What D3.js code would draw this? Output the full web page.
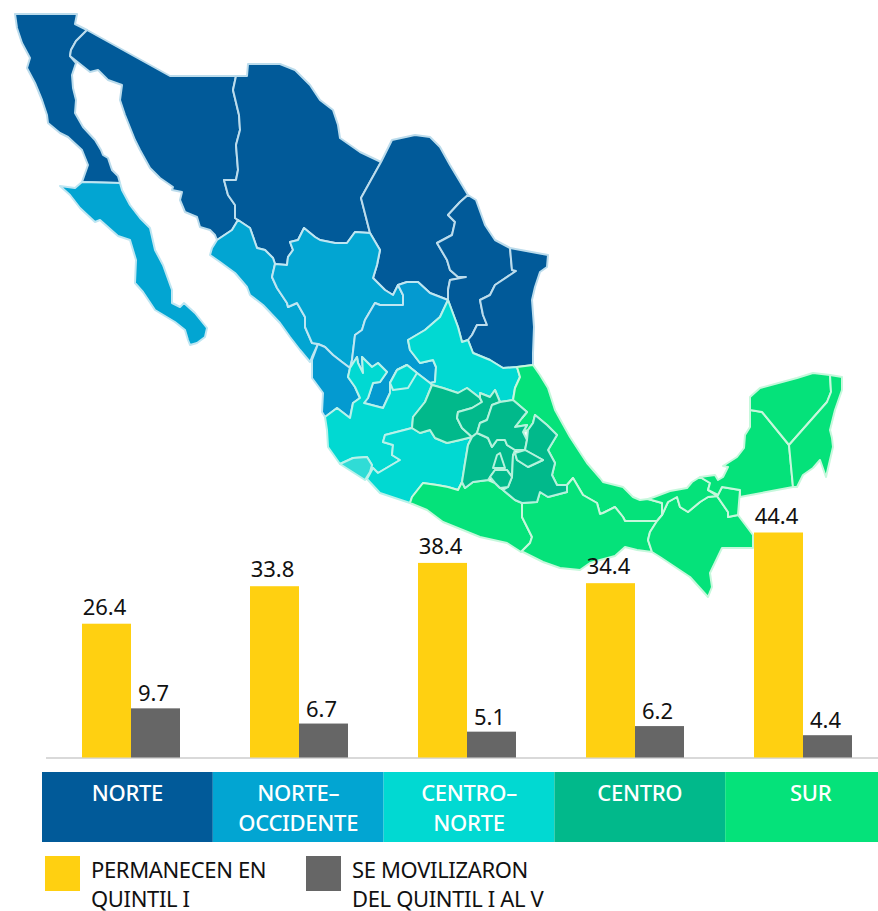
<!DOCTYPE html>
<html><head><meta charset="utf-8">
<style>html,body{margin:0;padding:0;background:#fff}svg{display:block}text{font-family:"Noto Sans",sans-serif}</style>
<script src="https://cdn.jsdelivr.net/npm/d3@7"></script></head><body>
<script>
// ---------- chart values ----------
const regionNames = ["NORTE","NORTE–OCCIDENTE","CENTRO–NORTE","CENTRO","SUR"];
const bandLines = [["NORTE"],["NORTE–","OCCIDENTE"],["CENTRO–","NORTE"],["CENTRO"],["SUR"]];
const seriesKeys = ["permanecen","movilizaron"];
const permanecen = [26.4,33.8,38.4,34.4,44.4];
const movilizaron = [9.7,6.7,5.1,6.2,4.4];
const legendLines = [["PERMANECEN EN","QUINTIL I"],["SE MOVILIZARON","DEL QUINTIL I AL V"]];
const regionColors = ["#015a99","#02a5d2","#01d9d2","#01b98b","#05e27a"];
const regionStrokes = ["#bcdcec","#bfe6f2","#b8f2ea","#b4f2dc","#c6f8dc"];
const seriesColors = ["#ffd011","#666666"];

// ---------- map outlines (map units, shared borders reused) ----------
const rev = a => a.slice().reverse();
const bcSon=[[87,30],[76,41],[71,50],[70,56]];
const sonChi=[[236,76],[233,90],[239,115],[240,130],[236,145],[238,170],[236,180],[224,180],[228,195],[235,205],[235,218],[238,220]];
const sonSin=[[238,220],[232,230],[217,240]];
const chiSin=[[238,220],[250,228],[257,248],[265,250],[273,258],[275,264]];
const chiDgo=[[275,264],[287,265],[288,257],[293,250],[290,242],[298,240],[304,228],[315,237],[320,240],[335,243],[347,243],[355,232],[370,233]];
const chiCoa=[[381,162],[361,198],[370,233]];
const coaNl=[[468,195],[460,202],[448,215],[455,222],[452,235],[437,243],[447,260],[450,270],[458,277],[466,277],[450,280],[448,290],[448,300]];
const coaZac=[[448,300],[430,293],[418,282],[407,282],[398,285]];
const coaDgo=[[398,285],[393,295],[385,290],[373,278],[377,265],[380,250],[370,233]];
const nlTam=[[510,248],[512,270],[516,271],[495,285],[490,295],[480,300],[483,315],[487,325],[477,325],[472,335],[468,340]];
const nlSlp=[[448,300],[458,327],[462,342],[468,340]];
const sinDgo=[[275,264],[272,277],[277,288],[287,303],[288,307],[297,303],[305,317],[305,327],[312,343],[318,344]];
const dgoZac=[[398,285],[403,295],[403,305],[380,305],[375,303],[365,320],[362,330],[355,335],[352,360],[350,368]];
const dgoNay=[[350,368],[342,362],[333,355],[325,347],[318,344]];
const zacSlp=[[448,300],[440,317],[425,330],[408,340],[410,350],[420,363],[433,360],[436,367],[435,382],[430,383]];
const zacJal=[[430,383],[417,373],[407,365],[397,370],[390,383],[390,393],[383,408],[364,403],[368,398],[373,383],[380,382],[387,372],[378,363],[372,367],[367,362],[362,357],[363,373],[358,363],[357,357],[350,368]];
const nayJal=[[350,368],[348,377],[355,387],[360,398],[353,403],[350,418],[337,408],[325,417]];
const slpSouth=[[513,400],[500,402],[495,390],[490,397],[480,393],[480,398],[467,388],[458,393],[443,388],[432,385],[430,383]];
const slpVer=[[517,367],[520,377],[515,388],[513,400]];
const jalMic=[[367,479],[373,468],[378,473],[400,460],[392,455],[393,445],[383,442],[385,435],[412,428]];
const jalGto=[[412,428],[413,417],[425,402],[432,385]];
const gtoMic=[[412,428],[420,433],[430,430],[435,438],[447,443],[460,440],[472,437]];
const gtoQro=[[482,402],[472,408],[458,412],[457,418],[462,428],[472,437]];
const qroHgo=[[472,437],[477,433],[480,423],[487,420],[492,405],[500,402]];
const hgoMex=[[477,433],[488,438],[492,447],[497,440],[505,440],[507,445],[515,450]];
const micMex=[[472,437],[468,445],[465,463],[462,482]];
const micGro=[[462,482],[458,490],[448,487],[437,485],[423,483],[412,497],[410,503]];
const groPue=[[503,490],[515,500],[522,503]];
const groOax=[[522,503],[522,517],[532,537],[530,543],[521,552]];
const oaxPue=[[522,503],[537,502],[540,492],[548,497],[567,492],[567,485],[573,478]];
const oaxVer=[[573,478],[583,495],[597,503],[600,514],[603,513],[615,507],[623,517],[625,521],[657,521]];
const oaxChi=[[657,521],[650,532],[648,540],[652,552]];
const verTab=[[648,499],[662,503],[662,515],[657,521]];
const chiTab=[[662,515],[668,502],[677,497],[680,507],[688,512],[700,502],[708,497],[717,496]];
const tabCam=[[700,477],[710,483],[708,490],[718,495],[722,487],[740,490],[740,497]];
const camYuc=[[750,410],[762,412],[789,445]];
const yucRoo=[[830,375],[831,392],[827,402],[789,445]];
const rooCam=[[789,445],[793,487]];

const stateOutlines = [
 {name:"Baja California",region:0,ring:[[15,14],[77,14],[75,24],...bcSon,[76,63],[72,75],[73,88],[76,100],[75,113],[83,127],[95,140],[101,150],[103,155],[108,158],[112,170],[118,176],[120,183],[82,182],[88,165],[82,150],[68,137],[60,133],[48,123],[47,115],[42,100],[35,83],[27,68],[30,58],[22,43],[17,28]]},
 {name:"Sonora",region:0,ring:[[87,30],[170,76],...sonChi,...sonSin.slice(1),[215,235],[210,230],[200,227],[197,217],[185,212],[180,200],[182,192],[172,190],[173,187],[160,178],[150,168],[140,150],[135,140],[125,115],[120,100],[122,85],[108,80],[98,70],[90,72],[75,60],...rev(bcSon)]},
 {name:"Chihuahua",region:0,ring:[[236,76],[247,76],[248,64],[280,64],[295,70],[310,85],[320,100],[333,110],[338,125],[340,138],[360,152],...chiCoa,...rev(chiDgo),...rev(chiSin),...rev(sonChi)]},
 {name:"Coahuila",region:0,ring:[[381,162],[392,140],[415,135],[430,137],[440,147],[450,165],...coaNl,...coaZac,...coaDgo,[361,198]]},
 {name:"Nuevo León",region:0,ring:[[468,195],[476,200],[485,225],[495,240],...nlTam,...rev(nlSlp),...rev(coaNl)]},
 {name:"Tamaulipas",region:0,ring:[[510,248],[537,253],[548,255],[547,267],[540,272],[535,287],[532,300],[534,327],[533,353],[533,365],[517,367],[503,368],[490,360],[473,353],...rev(nlTam)]},
 {name:"Baja California Sur",region:1,ring:[[82,182],[120,183],[122,190],[130,205],[140,218],[150,228],[155,250],[163,265],[172,290],[172,303],[180,307],[184,303],[195,313],[207,328],[205,337],[197,343],[190,345],[188,340],[185,330],[175,322],[155,310],[143,292],[135,283],[136,260],[130,240],[118,236],[100,220],[95,222],[80,208],[70,195],[60,186],[75,188]]},
 {name:"Sinaloa",region:1,ring:[[217,240],[232,230],...chiSin,...sinDgo.slice(1),[312,357],[310,362],[300,350],[290,337],[280,323],[263,305],[250,295],[247,287],[235,273],[220,262],[210,255],[212,248]]},
 {name:"Durango",region:1,ring:[...chiDgo,...rev(coaDgo).slice(1),...dgoZac,...dgoNay.slice(1),...rev(sinDgo).slice(1)]},
 {name:"Nayarit",region:1,tone:"#049ad0",ring:[...rev(dgoNay),...nayJal,[322,412],[323,393],[312,378],[312,360]]},
 {name:"Zacatecas",region:1,tone:"#049ad0",ring:[...rev(dgoZac),...rev(coaZac).slice(1),...zacSlp,...zacJal.slice(1)]},
 {name:"San Luis Potosí",region:2,ring:[...nlSlp,[473,353],[490,360],[503,368],...slpVer,...slpSouth.slice(1),...rev(zacSlp).slice(1)]},
 {name:"Jalisco",region:2,ring:[...zacJal,...nayJal.slice(1),[327,430],[328,447],[340,464],[353,458],[367,457],[372,465],[370,472],...jalMic,[413,417],[425,402],[432,385]]},
 {name:"Aguascalientes",region:2,ring:[[390,383],[397,370],[407,365],[417,373],[408,388],[393,390]]},
 {name:"Michoacán",region:2,ring:[...jalMic,...gtoMic,...micMex.slice(1),...micGro.slice(1),[380,493]]},
 {name:"Colima",region:2,tone:"#30dcd6",ring:[[340,464],[353,458],[367,457],[372,465],[370,472],[365,480]]},
 {name:"Veracruz",region:4,ring:[[517,367],[533,365],[540,375],[548,388],[555,410],[570,437],[587,463],[600,478],[603,482],[623,487],[633,497],[640,500],...verTab,...rev(oaxVer),[567,485],[557,485],[552,475],[555,463],[548,450],[557,435],[547,425],[535,415],[533,423],[528,430],[523,432],[527,425],[515,427],[522,418],[527,412],...rev(slpVer).slice(0,-1)]},
 {name:"Guerrero",region:4,ring:[[410,503],[412,497],[423,483],[437,485],[448,487],[458,490],[462,482],[465,488],[473,482],[488,480],[495,483],[500,488],...groPue,...groOax.slice(1),[507,543],[480,537],[443,522],[427,510]]},
 {name:"Oaxaca",region:4,ring:[...oaxPue,...oaxVer.slice(1),...oaxChi.slice(1),[637,550],[625,547],[615,556],[600,560],[590,563],[580,570],[560,568],[543,562],[523,552],...rev(groOax).slice(0,-1)]},
 {name:"Chiapas",region:4,ring:[[657,521],...chiTab,[728,512],[728,517],[738,515],[747,527],[753,535],[753,548],[722,548],[710,573],[712,587],[708,597],[690,577],[660,557],...rev(oaxChi).slice(0,-1)]},
 {name:"Tabasco",region:4,ring:[[648,499],[654,497],[670,491],[687,488],[692,482],[700,477],[710,483],[708,490],[717,496],[722,487],[740,490],[738,515],[728,517],[728,512],...rev(chiTab),[662,503]]},
 {name:"Campeche",region:4,ring:[[700,477],[715,475],[718,480],[723,477],[728,467],[723,466],[737,457],[744,448],[745,435],[750,427],...camYuc,...rooCam,...rev(tabCam)]},
 {name:"Yucatán",region:4,ring:[[750,410],[750,397],[760,388],[797,378],[813,373],...yucRoo,...rev(camYuc).slice(1,-1)]},
 {name:"Quintana Roo",region:4,ring:[[830,375],[842,377],[842,390],[835,410],[830,430],[832,438],[833,447],[826,477],[820,460],[813,468],[803,475],[797,487],[793,487],...rev(yucRoo).slice(0,-1)]},
 {name:"Guanajuato",region:3,ring:[...jalGto,[443,388],[458,393],[467,388],[480,398],...gtoQro,...rev(gtoMic).slice(1)]},
 {name:"Querétaro",region:3,ring:[...gtoQro,...qroHgo.slice(1),[495,390],[490,397],[480,393],[480,398]]},
 {name:"Estado de México",region:3,ring:[...micMex,[465,488],[473,482],[488,480],[490,477],[495,470],[507,470],[512,477],[513,455],...rev(hgoMex)]},
 {name:"Hidalgo",region:3,ring:[...qroHgo.slice(1),[513,400],[527,412],[522,418],[515,427],[527,425],[523,432],[527,440],[525,450],...rev(hgoMex)]},
 {name:"Puebla",region:3,ring:[[535,415],[547,425],[557,435],[548,450],[555,463],[552,475],[557,485],[567,485],...rev(oaxPue).slice(2,-1),...rev(groPue),[508,487],[512,477],[513,455],[515,453],[517,460],[528,467],[543,460],[525,450],[527,440],[528,430],[533,423]]},
 {name:"Ciudad de México",region:3,ring:[[493,468],[497,455],[500,453],[505,468]]},
 {name:"Morelos",region:3,ring:[[490,477],[495,470],[507,470],[512,477],[508,487],[500,488],[495,483]]},
 {name:"Tlaxcala",region:3,ring:[[515,453],[525,450],[543,460],[528,467],[517,460]]}
];

// ---------- drawing ----------
const W=878,H=911;
const svg=d3.select("body").append("svg").attr("width",W).attr("height",H);

// map
const features=stateOutlines.map(s=>({type:"Feature",properties:s,geometry:{type:"Polygon",coordinates:[[...s.ring,s.ring[0]]]}}));
const projection=d3.geoIdentity().fitExtent([[15,14],[842,597]],{type:"FeatureCollection",features});
const geoPath=d3.geoPath(projection);
svg.append("g").selectAll("path").data(features).join("path")
  .attr("d",geoPath)
  .attr("fill",d=>d.properties.tone||regionColors[d.properties.region])
  .attr("stroke",d=>regionStrokes[d.properties.region])
  .attr("stroke-width",2).attr("stroke-linejoin","round");

// bars
const yBase=757.5;
const x0=d3.scaleBand().domain(regionNames).range([82,852]).paddingInner(0.4167);
const x1=d3.scaleBand().domain(seriesKeys).range([0,x0.bandwidth()]);
const y=d3.scaleLinear().domain([0,44.4]).range([yBase,532.5]);
const values={permanecen,movilizaron};

svg.append("line").attr("x1",46).attr("x2",W).attr("y1",yBase+0.5).attr("y2",yBase+0.5)
  .attr("stroke","#cccccc").attr("stroke-width",1.5);

seriesKeys.forEach((k,si)=>{
  const rows=regionNames.map((r,i)=>({r,v:values[k][i]}));
  const g=svg.append("g");
  g.selectAll("rect").data(rows).join("rect")
    .attr("x",d=>x0(d.r)+x1(k)).attr("width",x1.bandwidth())
    .attr("y",d=>y(d.v)).attr("height",d=>yBase-y(d.v))
    .attr("fill",seriesColors[si]);
  g.selectAll("text").data(rows).join("text")
    .attr("x",d=>x0(d.r)+x1(k)+x1.bandwidth()/2-2)
    .attr("y",d=>y(d.v)-(si?7:9))
    .attr("text-anchor","middle").attr("font-size",22).attr("fill","#111")
    .text(d=>d.v.toFixed(1));
});

// region bands
const bx=d3.scaleBand().domain(regionNames).range([42,896]);
const bands=svg.append("g").selectAll("g").data(regionNames).join("g");
bands.append("rect").attr("x",d=>bx(d)).attr("y",772).attr("height",70)
  .attr("width",d=>Math.min(bx.bandwidth(),W-bx(d)))
  .attr("fill",(d,i)=>regionColors[i]);
bands.each(function(d,i){
  d3.select(this).selectAll("text").data(bandLines[i]).join("text")
    .attr("x",bx(d)+bx.bandwidth()/2).attr("y",(t,j)=>801+j*30)
    .attr("text-anchor","middle").attr("font-size",22).attr("font-weight",500)
    .style("letter-spacing","-0.3px").attr("fill","#fff").text(t=>t);
});

// legend
const lx=d3.scalePoint().domain(seriesKeys).range([45,306]);
const leg=svg.append("g").selectAll("g").data(seriesKeys).join("g");
leg.append("rect").attr("x",d=>lx(d)).attr("y",856).attr("width",35).attr("height",35)
  .attr("fill",(d,i)=>seriesColors[i]);
leg.each(function(d,i){
  d3.select(this).selectAll("text").data(legendLines[i]).join("text")
    .attr("x",lx(d)+46).attr("y",(t,j)=>878+j*28.5)
    .attr("font-size",22).attr("fill","#111").style("letter-spacing","-0.35px").text(t=>t);
});
</script></body></html>
